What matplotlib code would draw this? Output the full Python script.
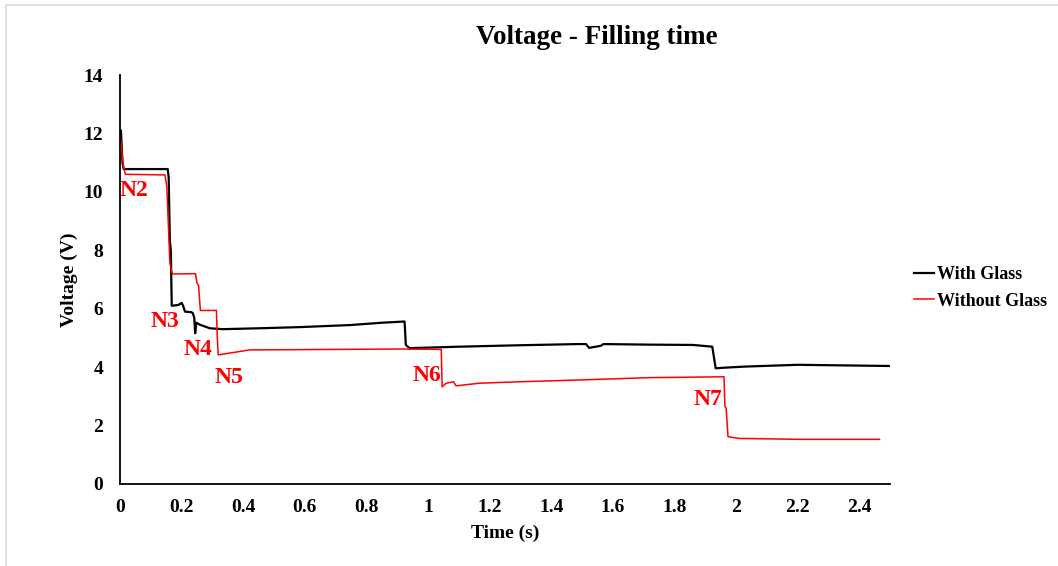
import matplotlib
matplotlib.use("Agg")
import matplotlib.pyplot as plt
from matplotlib.patches import Rectangle

# Voltage traces during filling (time in s, voltage in V)
t_glass = [0, 0.003, 0.008, 0.012, 0.155, 0.158, 0.162, 0.165, 0.168, 0.19, 0.2, 0.205,
           0.211, 0.232, 0.236, 0.241, 0.244, 0.248, 0.26, 0.292, 0.334, 0.45, 0.583, 0.746,
           0.85, 0.92, 0.924, 0.928, 0.94, 1.1, 1.3, 1.49, 1.513, 1.523, 1.561, 1.57, 1.72,
           1.86, 1.923, 1.934, 1.96, 2.031, 2.2, 2.496]
v_glass = [12.0, 12.1, 11.0, 10.78, 10.78, 10.5, 8.3, 8.0, 6.1, 6.13, 6.2, 6.1,
           5.9, 5.88, 5.85, 5.7, 5.16, 5.52, 5.45, 5.33, 5.3, 5.33, 5.37, 5.44,
           5.52, 5.56, 5.56, 4.76, 4.65, 4.7, 4.75, 4.79, 4.79, 4.66, 4.73, 4.79, 4.77,
           4.76, 4.70, 3.96, 3.98, 4.02, 4.08, 4.04]

t_noglass = [0, 0.005, 0.011, 0.018, 0.146, 0.152, 0.159, 0.162, 0.17, 0.245, 0.25, 0.255,
             0.261, 0.313, 0.316, 0.319, 0.421, 0.6, 0.746, 0.9, 1.043, 1.046, 1.059, 1.083,
             1.091, 1.167, 1.3, 1.49, 1.718, 1.961, 1.964, 1.968, 1.974, 2.01, 2.2, 2.466]
v_noglass = [11.95, 11.5, 10.87, 10.6, 10.58, 10.18, 8.36, 7.56, 7.19, 7.2, 6.87, 6.8,
             5.94, 5.94, 5.0, 4.42, 4.59, 4.6, 4.61, 4.62, 4.61, 3.33, 3.45, 3.5,
             3.36, 3.45, 3.5, 3.56, 3.64, 3.67, 2.65, 2.6, 1.62, 1.56, 1.53, 1.53]

# Stage markers
stage_names = ["N2", "N3", "N4", "N5", "N6", "N7"]
stage_t = [0.045, 0.146, 0.253, 0.353, 0.998, 1.909]
stage_v = [10.03, 5.55, 4.62, 3.63, 3.73, 2.88]

x_ticks = [0, 0.2, 0.4, 0.6, 0.8, 1, 1.2, 1.4, 1.6, 1.8, 2, 2.2, 2.4]
x_tick_labels = ["0", "0.2", "0.4", "0.6", "0.8", "1", "1.2", "1.4", "1.6", "1.8", "2", "2.2", "2.4"]
y_ticks = [0, 2, 4, 6, 8, 10, 12, 14]

plt.rcParams["font.family"] = ["Liberation Serif", "DejaVu Serif"]
plt.rcParams["font.weight"] = "bold"

W, H = 1058, 566
fig = plt.figure(figsize=(W / 100, H / 100), dpi=100)

# light grey frame around the chart area
fig.patches.append(Rectangle((6 / W, -0.1), 1.2, 1.1 - 5 / H, transform=fig.transFigure,
                             fill=False, edgecolor="#d9d9d9", linewidth=1.2))

ax = fig.add_axes([120 / W, 1 - 484 / H, (890 - 120) / W, (484 - 75) / H])
ax.plot(t_glass, v_glass, color="black", lw=1.6, label="With Glass")
ax.plot(t_noglass, v_noglass, color="#ff0000", lw=1.1, label="Without Glass")

for name, tx, vy in zip(stage_names, stage_t, stage_v):
    ax.text(tx, vy, name, color="#ff0000", fontsize=17, fontweight="bold",
            ha="center", va="center")

ax.set_xlim(0, 2.5)
ax.set_ylim(0, 14)
ax.set_xticks(x_ticks)
ax.set_xticklabels(x_tick_labels)
ax.set_yticks(y_ticks)
ax.tick_params(length=0, labelsize=14)
ax.tick_params(axis="x", pad=11)
ax.tick_params(axis="y", pad=12)
for lab in ax.get_xticklabels() + ax.get_yticklabels():
    lab.set_fontweight("bold")
for side in ("top", "right"):
    ax.spines[side].set_visible(False)
for side in ("left", "bottom"):
    ax.spines[side].set_linewidth(1.3)

ax.set_xlabel("Time (s)", fontsize=14, fontweight="bold", labelpad=6)
ax.set_ylabel("Voltage (V)", fontsize=14, fontweight="bold", labelpad=4)

fig.text(597 / W, 1 - 37 / H, "Voltage - Filling time", fontsize=19.5, fontweight="bold",
         ha="center", va="center")

leg = ax.legend(loc="center left", bbox_to_anchor=(898 / W, 1 - 288 / H),
                bbox_transform=fig.transFigure, frameon=False, fontsize=13,
                handlelength=1.1, handletextpad=0.15, labelspacing=0.5)
for txt in leg.get_texts():
    txt.set_fontweight("bold")

fig.savefig("out.png", dpi=100)
